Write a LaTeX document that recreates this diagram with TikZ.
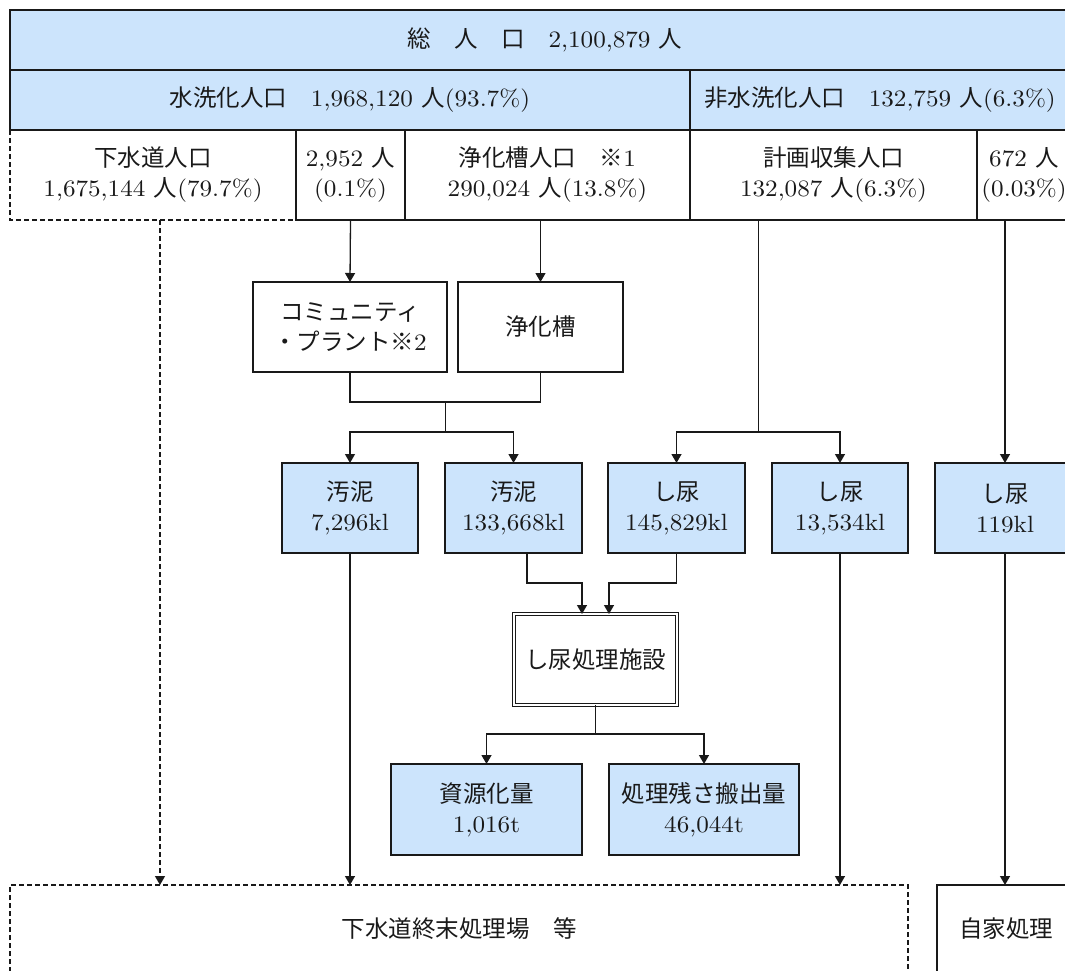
\documentclass[tikz,border=0pt]{standalone}
\usepackage{fontspec}
\setmainfont{lmroman10-regular.otf}[FakeStretch=1.07]
\newfontfamily\jpf{Noto Sans CJK JP}
\usetikzlibrary{arrows.meta,calc}
\definecolor{cellblue}{RGB}{204,228,252}
\definecolor{ink}{RGB}{25,25,25}
\newcommand\J[1]{{\jpf #1}}
\newcommand\fsz{\fontsize{23.5}{30}\selectfont}
\begin{document}
\begin{tikzpicture}[x=1pt,y=-1pt,
  every node/.style={font=\fsz, inner sep=0pt, outer sep=0pt, align=center, text=ink},
  box/.style={draw=ink, line width=1.3pt, rectangle, anchor=north west},
  bluebox/.style={box, fill=cellblue},
  plain/.style={rectangle, anchor=north west},
  arr/.style={-{Triangle[length=9pt,width=10pt]}, line width=1.3pt, draw=ink},
  ln/.style={line width=1.3pt, draw=ink},
  dsh/.style={dash pattern=on 5pt off 3pt},
]
\useasboundingbox (0,0) rectangle (1065,971);
\clip (0,0) rectangle (1065,971);

% row 1 and 2
\node[bluebox, minimum width=1070pt, minimum height=60pt] (tot) at (10,10) {\J{総　人　口　}2,100,879 \J{人}};
\node[bluebox, minimum width=680pt, minimum height=60pt] (sui) at (10,70) {\J{水洗化人口　}1,968,120 \J{人}(93.7\%)};
\node[bluebox, minimum width=380pt, minimum height=60pt] (hisui) at (690,70) {\J{非水洗化人口　}132,759 \J{人}(6.3\%)};

% row 3
\node[plain, minimum width=286pt, minimum height=90pt] (sew) at (10,130) {\J{下水道人口}\\1,675,144 \J{人}(79.7\%)};
\draw[ln,dsh] (sew.north west) -- (sew.south west) -- (sew.south east);
\node[box, minimum width=109pt, minimum height=90pt] (c2952) at (296,130) {2,952 \J{人}\\(0.1\%)};
\node[box, minimum width=285pt, minimum height=90pt] (jyo) at (405,130) {\J{浄化槽人口　※}1\\290,024 \J{人}(13.8\%)};
\node[box, minimum width=287pt, minimum height=90pt] (kei) at (690,130) {\J{計画収集人口}\\132,087 \J{人}(6.3\%)};
\node[box, minimum width=94pt, minimum height=90pt] (c672) at (977,130) {672 \J{人}\\(0.03\%)};

% treatment boxes
\node[box, minimum width=194pt, minimum height=90pt] (comm) at (253,282) {\J{コミュニティ}\\\J{・プラント※}2};
\node[box, minimum width=165pt, minimum height=90pt] (jok) at (458,282) {\J{浄化槽}};

% row 4
\node[bluebox, minimum width=136pt, minimum height=90pt] (sl1) at (282,463) {\J{汚泥}\\7,296kl};
\node[bluebox, minimum width=137pt, minimum height=90pt] (sl2) at (445,463) {\J{汚泥}\\133,668kl};
\node[bluebox, minimum width=137pt, minimum height=90pt] (sn1) at (608,463) {\J{し尿}\\145,829kl};
\node[bluebox, minimum width=136pt, minimum height=90pt] (sn2) at (772,463) {\J{し尿}\\13,534kl};
\node[bluebox, minimum width=140pt, minimum height=90pt] (sn3) at (935,463) {\J{し尿}\\119kl};

% night soil plant
\node[plain, draw=ink, double, double distance=1.6pt, line width=0.9pt, minimum width=163pt, minimum height=91pt] (shori) at (514,614) {\J{し尿処理施設}};

\node[bluebox, minimum width=191pt, minimum height=91pt] (shig) at (391,764) {\J{資源化量}\\1,016t};
\node[bluebox, minimum width=190pt, minimum height=91pt] (zan) at (609,764) {\J{処理残さ搬出量}\\46,044t};

% bottom
\node[plain, minimum width=898pt, minimum height=87pt] (gesui) at (10,885) {\J{下水道終末処理場　等}};
\draw[ln,dsh] (gesui.south west) -- (gesui.north west) -- (gesui.north east) -- (gesui.south east);
\node[box, minimum width=138pt, minimum height=87pt] (jika) at (937,885) {\J{自家処理}};

% connectors
\draw[arr] (c2952.south) -- (comm.north);
\draw[arr] (jok.north |- jyo.south) -- (jok.north);
\coordinate (j1) at ($(comm.south)!0.5!(jok.south)+(0,30)$);
\coordinate (j2) at ($(j1)+(0,30)$);
\draw[ln] (comm.south) |- (j1) -| (jok.south);
\draw[ln] (j1) -- (j2);
\draw[arr] (j2) -| (sl1.north);
\draw[arr] (j2) -| (sl2.north);

\coordinate (k2) at ($(sn1.north)!0.5!(sn2.north)+(0,-31)$);
\draw[ln] (k2 |- kei.south) -- (k2);
\draw[arr] (k2) -| (sn1.north);
\draw[arr] (k2) -| (sn2.north);
\draw[arr] (sn3.north |- c672.south) -- (sn3.north);

\draw[arr] ([xshift=13.5pt]sl2.south) -- ++(0,30) -| ([xshift=-13.5pt]shori.north);
\draw[arr] (sn1.south) -- ++(0,30) -| ([xshift=13.5pt]shori.north);

\coordinate (s2) at ($(shori.south)+(0,29)$);
\draw[ln] (shori.south) -- (s2);
\draw[arr] (s2) -| (shig.north);
\draw[arr] (s2) -| (zan.north);

\draw[arr,dsh] ([xshift=7pt]sew.south) -- ([xshift=7pt]sew.south |- gesui.north);
\draw[arr] (sl1.south) -- (sl1.south |- gesui.north);
\draw[arr] (sn2.south) -- (sn2.south |- gesui.north);
\draw[arr] (sn3.south) -- (sn3.south |- jika.north);
\end{tikzpicture}
\end{document}
